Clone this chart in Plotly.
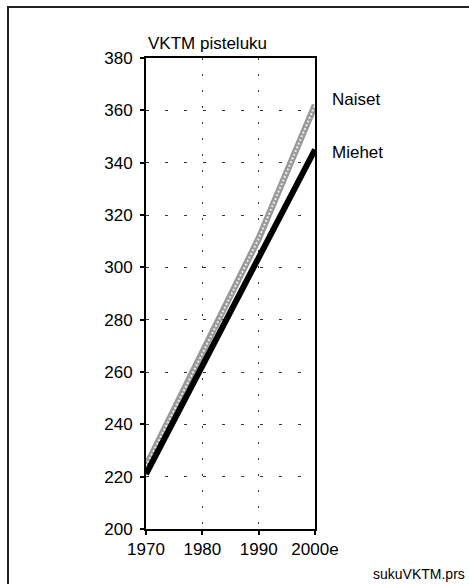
import plotly.graph_objects as go

years = [1970, 1980, 1990, 2000]
naiset = [224, 267, 311, 362]
miehet = [221, 262, 303, 345]
x_tickvals = [1970, 1980, 1990, 2000]
x_ticktext = ["1970", "1980", "1990", "2000e"]
y_tickvals = [200, 220, 240, 260, 280, 300, 320, 340, 360, 380]
series_names = ["Naiset", "Miehet"]
title_text = "VKTM pisteluku"
source_text = "sukuVKTM.prs"

FONT = "Liberation Sans, Arial, sans-serif"

W, H = 469, 584
L, R, T, B = 146, 154, 58, 55
pw, ph = W - L - R, H - T - B

def px_x(px):
    return (px - L) / pw

def px_y(py):
    return (H - B - py) / ph

fig = go.Figure()
fig.add_trace(go.Scatter(x=years, y=naiset, mode="lines", name=series_names[0],
                         line=dict(color="#999999", width=6.5), showlegend=False))
fig.add_trace(go.Scatter(x=years, y=naiset, mode="lines", name=series_names[0],
                         line=dict(color="#ececec", width=2, dash="2px,2px"), showlegend=False,
                         hoverinfo="skip"))
fig.add_trace(go.Scatter(x=years, y=miehet, mode="lines", name=series_names[1],
                         line=dict(color="#000000", width=6), showlegend=False))

fig.add_annotation(x=years[-1], y=naiset[-1], xref="x", yref="y", text=series_names[0],
                   showarrow=False, xanchor="left", yanchor="middle", xshift=15, yshift=6,
                   font=dict(family=FONT, size=17, color="black"))
fig.add_annotation(x=years[-1], y=miehet[-1], xref="x", yref="y", text=series_names[1],
                   showarrow=False, xanchor="left", yanchor="middle", xshift=15, yshift=-3,
                   font=dict(family=FONT, size=17, color="black"))
fig.add_annotation(x=px_x(146), y=px_y(43), xref="paper", yref="paper", text=title_text,
                   showarrow=False, xanchor="left", yanchor="middle",
                   font=dict(family=FONT, size=17, color="black"))
fig.add_annotation(x=px_x(467), y=px_y(574), xref="paper", yref="paper", text=source_text,
                   showarrow=False, xanchor="right", yanchor="middle",
                   font=dict(family=FONT, size=14, color="black"))

# outer frame (top and left edges)
fig.add_shape(type="line", xref="paper", yref="paper", x0=px_x(7), x1=px_x(470),
              y0=px_y(7), y1=px_y(7), line=dict(color="#222222", width=2))
fig.add_shape(type="line", xref="paper", yref="paper", x0=px_x(8), x1=px_x(8),
              y0=px_y(6), y1=px_y(590), line=dict(color="#222222", width=2))

fig.update_layout(
    width=W, height=H,
    margin=dict(l=L, r=R, t=T, b=B),
    paper_bgcolor="white", plot_bgcolor="white",
    font=dict(family=FONT, size=17, color="black"),
    xaxis=dict(range=[1970, 2000], tickvals=x_tickvals, ticktext=x_ticktext,
               showline=True, linecolor="black", linewidth=2, mirror=True,
               ticks="outside", ticklen=4, tickcolor="black", tickwidth=1.5,
               showgrid=True, gridcolor="#333333", gridwidth=1.2, griddash="2px,14px",
               zeroline=False, tickfont=dict(family=FONT, size=17)),
    yaxis=dict(range=[200, 380], tickvals=y_tickvals,
               showline=True, linecolor="black", linewidth=2, mirror=True,
               ticks="outside", ticklen=4, tickcolor="black", tickwidth=1.5,
               ticklabelstandoff=4,
               showgrid=True, gridcolor="#333333", gridwidth=1.2, griddash="3px,16px",
               zeroline=False, tickfont=dict(family=FONT, size=17)),
)

fig.write_html("out.html", config={"displayModeBar": False},
               post_script="document.body.style.margin='0';")
